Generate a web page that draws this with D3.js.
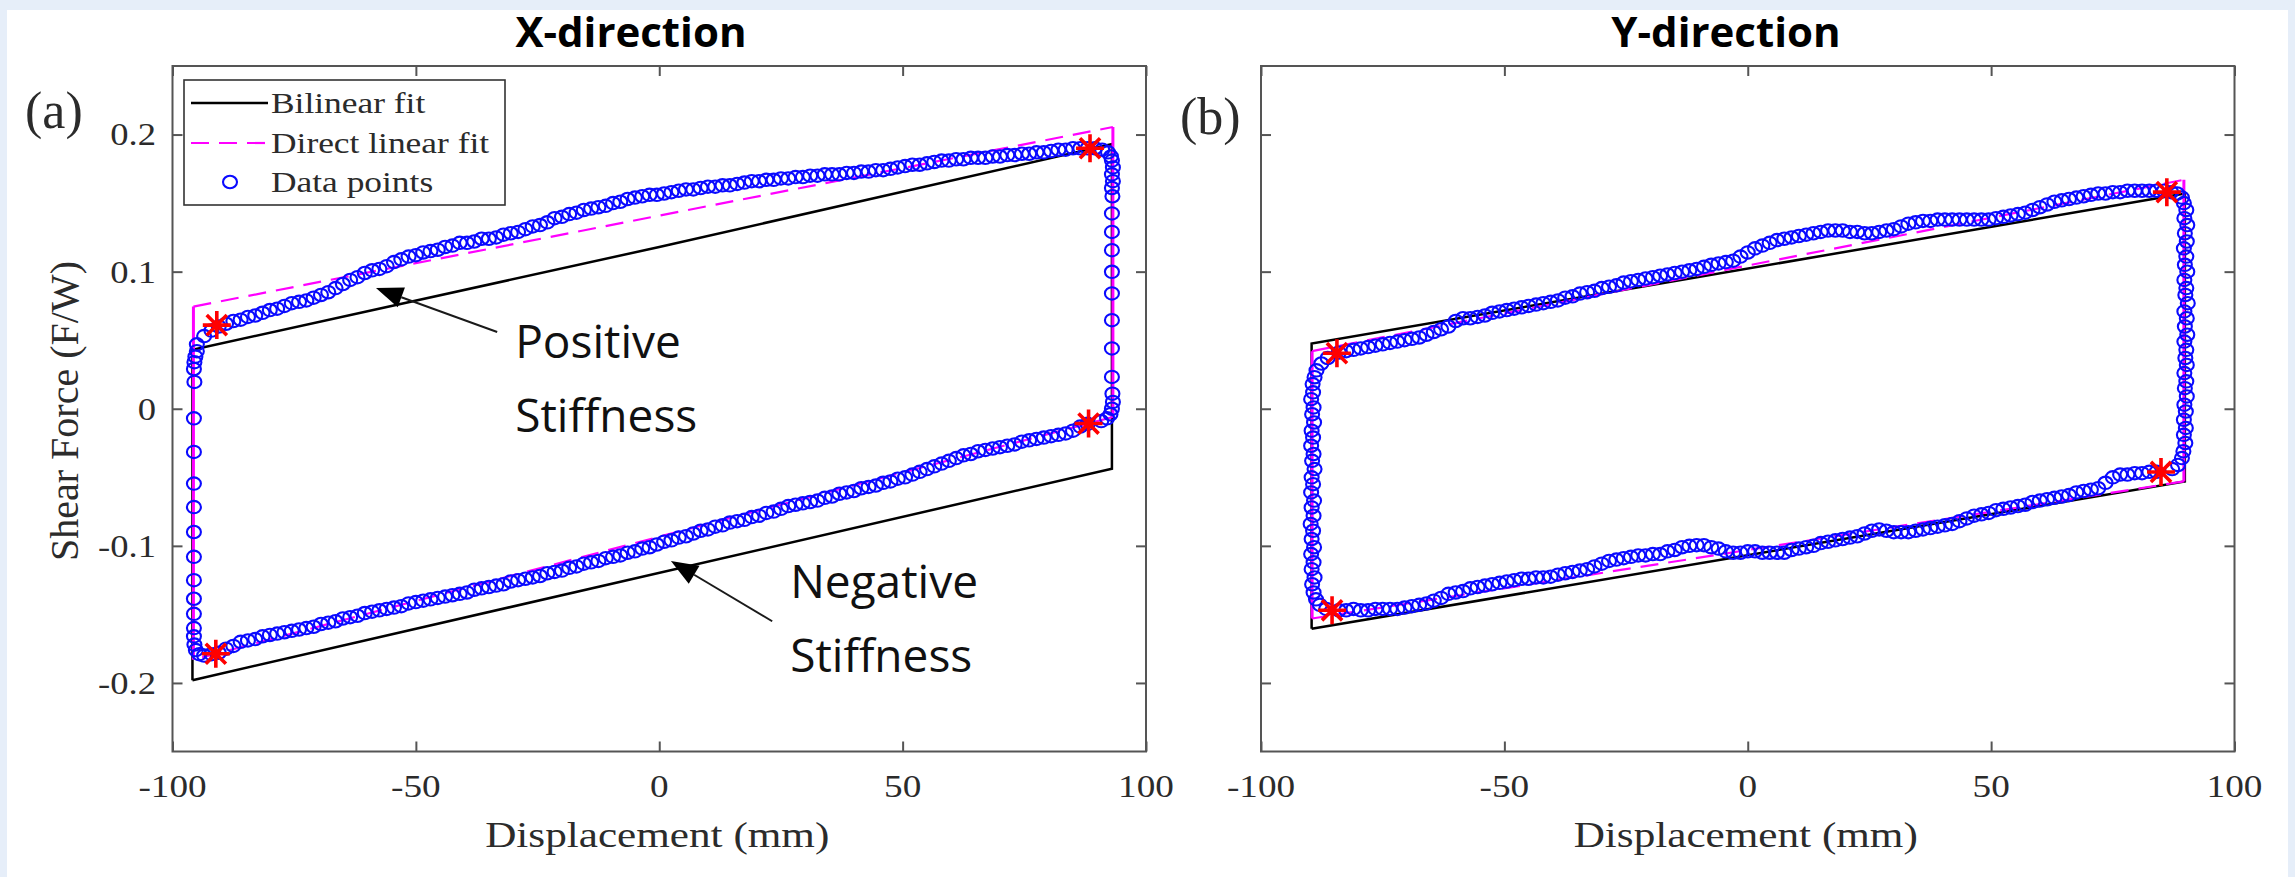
<!DOCTYPE html>
<html>
<head>
<meta charset="utf-8">
<script src="https://cdn.jsdelivr.net/npm/d3@7"></script>
<style>
  html, body { margin: 0; padding: 0; background: #e6eef9; }
  svg { display: block; }
</style>
</head>
<body>
<svg id="chart" width="2295" height="877"></svg>
<script>
// ---- data ----
const xTickValues = [-100, -50, 0, 50, 100];
const xTickLabels = ['-100', '-50', '0', '50', '100'];
const yTickValues = [-0.2, -0.1, 0, 0.1, 0.2];
const yTickLabels = ['-0.2', '-0.1', '0', '0.1', '0.2'];
const panelTitles = ['X-direction', 'Y-direction'];
const panelTags = ['(a)', '(b)'];
const legendLabels = ['Bilinear fit', 'Direct linear fit', 'Data points'];

// panel (a) - X-direction
const bilinearA = [[-95.9, -0.198], [-95.9, 0.043], [0, 0.118], [93, 0.193], [93, -0.0437], [-95.9, -0.198]];
const directFitA = [[-95.7, -0.183], [-95.7, 0.0745], [93.2, 0.2055], [93.2, -0.006], [-95.7, -0.183]];
const starsA = [[-90.9, 0.061], [88.5, 0.190], [88.2, -0.0108], [-91.1, -0.1787]];
const upperA = [
  [-95, 0.047], [-93.5, 0.053], [-92, 0.057], [-90.5, 0.060], [-89, 0.062], [-87.5, 0.064], [-86, 0.065], [-84.5, 0.067],
  [-83, 0.068], [-81.5, 0.070], [-80, 0.072], [-78.5, 0.073], [-77, 0.075], [-75.5, 0.077], [-74, 0.078], [-72.5, 0.079],
  [-71, 0.081], [-69.5, 0.083], [-68, 0.085], [-66.5, 0.088], [-65, 0.091], [-63.5, 0.094], [-62, 0.096], [-60.5, 0.099],
  [-59, 0.101], [-57.5, 0.102], [-56, 0.104], [-54.5, 0.107], [-53, 0.109], [-51.5, 0.111], [-50, 0.112], [-48.5, 0.114],
  [-47, 0.115], [-45.5, 0.116], [-44, 0.118], [-42.5, 0.119], [-41, 0.121], [-39.5, 0.121], [-38, 0.122], [-36.5, 0.124],
  [-35, 0.124], [-33.5, 0.125], [-32, 0.127], [-30.5, 0.128], [-29, 0.129], [-27.5, 0.131], [-26, 0.133], [-24.5, 0.134],
  [-23, 0.136], [-21.5, 0.139], [-20, 0.140], [-18.5, 0.142], [-17, 0.143], [-15.5, 0.145], [-14, 0.146], [-12.5, 0.147],
  [-11, 0.148], [-9.5, 0.150], [-8, 0.151], [-6.5, 0.153], [-5, 0.154], [-3.5, 0.155], [-2, 0.156], [-0.5, 0.156],
  [1, 0.157], [2.5, 0.158], [4, 0.159], [5.5, 0.160], [7, 0.160], [8.5, 0.161], [10, 0.162], [11.5, 0.162],
  [13, 0.163], [14.5, 0.163], [16, 0.164], [17.5, 0.165], [19, 0.166], [20.5, 0.166], [22, 0.167], [23.5, 0.167],
  [25, 0.168], [26.5, 0.168], [28, 0.169], [29.5, 0.169], [31, 0.170], [32.5, 0.170], [34, 0.171], [35.5, 0.171],
  [37, 0.171], [38.5, 0.172], [40, 0.172], [41.5, 0.173], [43, 0.173], [44.5, 0.174], [46, 0.174], [47.5, 0.175],
  [49, 0.176], [50.5, 0.177], [52, 0.178], [53.5, 0.178], [55, 0.179], [56.5, 0.180], [58, 0.181], [59.5, 0.181],
  [61, 0.182], [62.5, 0.182], [64, 0.183], [65.5, 0.183], [67, 0.183], [68.5, 0.184], [70, 0.184], [71.5, 0.185],
  [73, 0.185], [74.5, 0.186], [76, 0.186], [77.5, 0.187], [79, 0.187], [80.5, 0.188], [82, 0.189], [83.5, 0.189],
  [85, 0.190], [86.5, 0.190], [88, 0.190], [89.5, 0.190], [91, 0.189], [92.2, 0.187], [92.8, 0.184]
];
const rightA = [
  [93.0, 0.181], [93.2, 0.176], [93.0, 0.171], [93.2, 0.166], [93.0, 0.161], [93.1, 0.155], [93.0, 0.1425], [93.0, 0.129],
  [93.0, 0.1157], [93.0, 0.0999], [93.0, 0.0841], [93.0, 0.0646], [93.0, 0.0440], [93.0, 0.0232], [93.1, 0.011], [93.2, 0.005],
  [93.0, 0.000], [92.7, -0.004], [92.0, -0.007], [90.8, -0.009]
];
const lowerA = [
  [88, -0.011], [86.5, -0.013], [85, -0.016], [83.5, -0.018], [82, -0.019], [80.5, -0.020], [79, -0.021], [77.5, -0.022],
  [76, -0.023], [74.5, -0.024], [73, -0.026], [71.5, -0.027], [70, -0.028], [68.5, -0.029], [67, -0.030], [65.5, -0.031],
  [64, -0.033], [62.5, -0.034], [61, -0.036], [59.5, -0.038], [58, -0.040], [56.5, -0.042], [55, -0.044], [53.5, -0.046],
  [52, -0.048], [50.5, -0.050], [49, -0.051], [47.5, -0.053], [46, -0.054], [44.5, -0.056], [43, -0.057], [41.5, -0.058],
  [40, -0.060], [38.5, -0.061], [37, -0.062], [35.5, -0.064], [34, -0.065], [32.5, -0.067], [31, -0.068], [29.5, -0.069],
  [28, -0.070], [26.5, -0.071], [25, -0.073], [23.5, -0.075], [22, -0.076], [20.5, -0.078], [19, -0.079], [17.5, -0.081],
  [16, -0.082], [14.5, -0.083], [13, -0.085], [11.5, -0.086], [10, -0.088], [8.5, -0.089], [7, -0.091], [5.5, -0.093],
  [4, -0.094], [2.5, -0.096], [1, -0.097], [-0.5, -0.099], [-2, -0.101], [-3.5, -0.102], [-5, -0.104], [-6.5, -0.105],
  [-8, -0.107], [-9.5, -0.108], [-11, -0.109], [-12.5, -0.111], [-14, -0.112], [-15.5, -0.113], [-17, -0.115], [-18.5, -0.116],
  [-20, -0.118], [-21.5, -0.119], [-23, -0.120], [-24.5, -0.122], [-26, -0.123], [-27.5, -0.124], [-29, -0.125], [-30.5, -0.126],
  [-32, -0.128], [-33.5, -0.129], [-35, -0.130], [-36.5, -0.131], [-38, -0.132], [-39.5, -0.134], [-41, -0.135], [-42.5, -0.136],
  [-44, -0.137], [-45.5, -0.138], [-47, -0.139], [-48.5, -0.140], [-50, -0.141], [-51.5, -0.142], [-53, -0.144], [-54.5, -0.145],
  [-56, -0.146], [-57.5, -0.147], [-59, -0.148], [-60.5, -0.149], [-62, -0.151], [-63.5, -0.152], [-65, -0.153], [-66.5, -0.155],
  [-68, -0.156], [-69.5, -0.157], [-71, -0.159], [-72.5, -0.160], [-74, -0.161], [-75.5, -0.162], [-77, -0.163], [-78.5, -0.164],
  [-80, -0.165], [-81.5, -0.166], [-83, -0.168], [-84.5, -0.169], [-86, -0.170], [-87.5, -0.173], [-89, -0.175], [-90.5, -0.178],
  [-92, -0.179], [-93.5, -0.180], [-94.5, -0.179], [-95.2, -0.176]
];
const leftA = [
  [-95.5, -0.172], [-95.6, -0.166], [-95.6, -0.160], [-95.6, -0.1496], [-95.6, -0.1386], [-95.6, -0.125], [-95.6, -0.108],
  [-95.6, -0.0899], [-95.6, -0.0717], [-95.6, -0.0546], [-95.6, -0.0315], [-95.6, -0.007], [-95.5, 0.0196], [-95.6, 0.029],
  [-95.5, 0.034], [-95.3, 0.038], [-95.0, 0.042]
];
// annotation arrows in (a): [tail, tip]
const arrowsA = [[[-33.3, 0.056], [-58.2, 0.088]], [[23.2, -0.155], [2.4, -0.111]]];
const notesA = [{ at: [-29.6, 0.037], lines: ['Positive', 'Stiffness'] }, { at: [26.9, -0.138], lines: ['Negative', 'Stiffness'] }];

// panel (b) - Y-direction
const bilinearB = [[-89.6, -0.1605], [-89.6, 0.0476], [89.8, 0.157], [89.8, -0.053], [-89.6, -0.1605]];
const directFitB = [[-89.5, -0.153], [-89.5, 0.042], [89.6, 0.167], [89.6, -0.053], [-89.5, -0.153]];
const starsB = [[-84.4, 0.0405], [86.1, 0.158], [84.9, -0.0461], [-85.4, -0.147]];
const upperB = [
  [-84, 0.041], [-82.5, 0.042], [-81, 0.043], [-79.5, 0.044], [-78, 0.045], [-76.5, 0.046], [-75, 0.047], [-73.5, 0.048],
  [-72, 0.049], [-70.5, 0.050], [-69, 0.051], [-67.5, 0.052], [-66, 0.054], [-64.5, 0.056], [-63, 0.058], [-61.5, 0.060],
  [-60, 0.064], [-58.5, 0.066], [-57, 0.066], [-55.5, 0.067], [-54, 0.068], [-52.5, 0.070], [-51, 0.071], [-49.5, 0.072],
  [-48, 0.073], [-46.5, 0.074], [-45, 0.075], [-43.5, 0.076], [-42, 0.077], [-40.5, 0.078], [-39, 0.079], [-37.5, 0.081],
  [-36, 0.082], [-34.5, 0.084], [-33, 0.085], [-31.5, 0.086], [-30, 0.088], [-28.5, 0.089], [-27, 0.090], [-25.5, 0.092],
  [-24, 0.093], [-22.5, 0.094], [-21, 0.095], [-19.5, 0.096], [-18, 0.097], [-16.5, 0.098], [-15, 0.099], [-13.5, 0.100],
  [-12, 0.101], [-10.5, 0.102], [-9, 0.1035], [-7.5, 0.105], [-6, 0.106], [-4.5, 0.107], [-3, 0.108], [-1.5, 0.111],
  [0, 0.114], [1.5, 0.117], [3, 0.119], [4.5, 0.121], [6, 0.123], [7.5, 0.124], [9, 0.125], [10.5, 0.126],
  [12, 0.127], [13.5, 0.128], [15, 0.129], [16.5, 0.130], [18, 0.130], [19.5, 0.130], [21, 0.129], [22.5, 0.129],
  [24, 0.128], [25.5, 0.128], [27, 0.129], [28.5, 0.130], [30, 0.131], [31.5, 0.133], [33, 0.135], [34.5, 0.136],
  [36, 0.137], [37.5, 0.137], [39, 0.138], [40.5, 0.138], [42, 0.138], [43.5, 0.138], [45, 0.138], [46.5, 0.138],
  [48, 0.138], [49.5, 0.138], [51, 0.139], [52.5, 0.140], [54, 0.141], [55.5, 0.142], [57, 0.143], [58.5, 0.145],
  [60, 0.147], [61.5, 0.149], [63, 0.151], [64.5, 0.152], [66, 0.153], [67.5, 0.154], [69, 0.155], [70.5, 0.156],
  [72, 0.157], [73.5, 0.157], [75, 0.158], [76.5, 0.158], [78, 0.159], [79.5, 0.159], [81, 0.159], [82.5, 0.159],
  [84, 0.159], [85.5, 0.159], [87, 0.158], [88.2, 0.157], [89.2, 0.154]
];
const rightB = [
  [89.6, 0.150], [90.1, 0.145], [89.7, 0.139], [90.3, 0.134], [89.8, 0.128], [90.2, 0.122], [89.6, 0.117], [90.1, 0.111],
  [89.8, 0.105], [90.3, 0.100], [89.7, 0.094], [90.1, 0.088], [89.9, 0.083], [90.4, 0.077], [89.7, 0.071], [90.2, 0.066],
  [89.8, 0.060], [90.3, 0.054], [89.7, 0.049], [90.1, 0.043], [89.9, 0.037], [90.2, 0.032], [89.7, 0.026], [90.1, 0.020],
  [89.8, 0.015], [90.2, 0.009], [89.7, 0.003], [90.0, -0.002], [89.6, -0.008], [90.0, -0.014], [89.6, -0.019], [89.9, -0.025],
  [89.5, -0.031], [89.2, -0.036], [88.4, -0.041], [87.2, -0.044]
];
const lowerB = [
  [84, -0.046], [82.5, -0.046], [81, -0.047], [79.5, -0.047], [78, -0.048], [76.5, -0.048], [75, -0.050], [73.5, -0.054],
  [72, -0.058], [70.5, -0.059], [69, -0.060], [67.5, -0.061], [66, -0.063], [64.5, -0.064], [63, -0.065], [61.5, -0.066],
  [60, -0.067], [58.5, -0.068], [57, -0.070], [55.5, -0.071], [54, -0.072], [52.5, -0.073], [51, -0.074], [49.5, -0.076],
  [48, -0.077], [46.5, -0.078], [45, -0.080], [43.5, -0.082], [42, -0.084], [40.5, -0.085], [39, -0.086], [37.5, -0.087],
  [36, -0.088], [34.5, -0.089], [33, -0.090], [31.5, -0.090], [30, -0.090], [28.5, -0.089], [27, -0.088], [25.5, -0.089],
  [24, -0.091], [22.5, -0.093], [21, -0.094], [19.5, -0.095], [18, -0.096], [16.5, -0.097], [15, -0.098], [13.5, -0.100],
  [12, -0.101], [10.5, -0.102], [9, -0.103], [7.5, -0.105], [6, -0.105], [4.5, -0.105], [3, -0.105], [1.5, -0.104],
  [0, -0.104], [-1.5, -0.105], [-3, -0.105], [-4.5, -0.104], [-6, -0.102], [-7.5, -0.101], [-9, -0.0995], [-10.5, -0.0995],
  [-12, -0.100], [-13.5, -0.101], [-15, -0.103], [-16.5, -0.104], [-18, -0.106], [-19.5, -0.106], [-21, -0.107], [-22.5, -0.107],
  [-24, -0.108], [-25.5, -0.109], [-27, -0.110], [-28.5, -0.111], [-30, -0.113], [-31.5, -0.115], [-33, -0.117], [-34.5, -0.118],
  [-36, -0.119], [-37.5, -0.120], [-39, -0.121], [-40.5, -0.1225], [-42, -0.123], [-43.5, -0.123], [-45, -0.124], [-46.5, -0.124],
  [-48, -0.125], [-49.5, -0.126], [-51, -0.127], [-52.5, -0.128], [-54, -0.129], [-55.5, -0.130], [-57, -0.131], [-58.5, -0.133],
  [-60, -0.134], [-61.5, -0.135], [-63, -0.138], [-64.5, -0.140], [-66, -0.142], [-67.5, -0.143], [-69, -0.144], [-70.5, -0.145],
  [-72, -0.146], [-73.5, -0.146], [-75, -0.146], [-76.5, -0.146], [-78, -0.147], [-79.5, -0.147], [-81, -0.146], [-82.5, -0.147],
  [-84, -0.147]
];
const leftB = [
  [-86.6, -0.146], [-87.9, -0.143], [-88.7, -0.139], [-89.2, -0.134], [-89.5, -0.128], [-89.0, -0.123], [-89.6, -0.117],
  [-89.2, -0.112], [-89.7, -0.106], [-89.1, -0.101], [-89.6, -0.095], [-89.3, -0.089], [-89.8, -0.084], [-89.2, -0.078],
  [-89.6, -0.072], [-89.1, -0.067], [-89.7, -0.061], [-89.3, -0.055], [-89.6, -0.050], [-89.0, -0.044], [-89.5, -0.038],
  [-89.2, -0.033], [-89.7, -0.027], [-89.3, -0.021], [-89.6, -0.016], [-89.1, -0.010], [-89.5, -0.004], [-89.2, 0.001],
  [-89.7, 0.007], [-89.3, 0.012], [-89.4, 0.018], [-89.0, 0.023], [-88.6, 0.028], [-87.6, 0.033], [-86.3, 0.037]
];

// ---- layout ----
const SERIF = '"Liberation Serif", "Times New Roman", serif';
const SANS = '"Open Sans", "Noto Sans", sans-serif';
const AXIS = '#555';
const INK = '#2b2b2b';
const SX = 1.18;          // the figure was stretched sideways
const plotTop = 66, plotBottom = 751.5;

const panels = [
  { left: 172.5, right: 1146, bilinear: bilinearA, direct: directFitA, points: [upperA, rightA, lowerA, leftA],
    stars: starsA, yLabels: true, legend: true, arrows: arrowsA, notes: notesA,
    titleX: 631, tagX: 25, tagY: 128 },
  { left: 1261, right: 2234.5, bilinear: bilinearB, direct: directFitB, points: [upperB, rightB, lowerB, leftB],
    stars: starsB, yLabels: false, legend: false, arrows: [], notes: [],
    titleX: 1726, tagX: 1180, tagY: 134 }
];

const svg = d3.select('#chart');
svg.append('rect').attr('x', 7).attr('y', 10).attr('width', 2281).attr('height', 867).attr('fill', '#fff');

function serifText(g, x, y, str, size, anchor, sx = SX) {
  return g.append('text')
    .attr('transform', `translate(${x},${y}) scale(${sx},1)`)
    .attr('text-anchor', anchor)
    .style('font-family', SERIF)
    .style('font-size', size + 'px')
    .attr('fill', INK)
    .text(str);
}

// MATLAB style asterisk: plus and cross overlaid
function starPath(r) {
  const d = r * 0.72;
  return `M${-r},0L${r},0M0,${-r}L0,${r}M${-d},${-d}L${d},${d}M${-d},${d}L${d},${-d}`;
}

function drawArrow(g, tail, tip) {
  const [x0, y0] = tail, [x1, y1] = tip;
  const len = Math.hypot(x1 - x0, y1 - y0);
  const ux = (x1 - x0) / len, uy = (y1 - y0) / len;
  const headLen = 27, halfW = 10.5;
  const bx = x1 - ux * headLen, by = y1 - uy * headLen;
  g.append('line').attr('x1', x0).attr('y1', y0).attr('x2', bx).attr('y2', by)
    .attr('stroke', '#1a1a1a').attr('stroke-width', 2);
  g.append('path')
    .attr('d', `M${x1},${y1}L${bx - uy * halfW},${by + ux * halfW}L${bx + uy * halfW},${by - ux * halfW}Z`)
    .attr('fill', '#000');
}

function marker(sel) {
  return sel.attr('rx', 7).attr('ry', 6.2)
    .attr('fill', 'none').attr('stroke', '#0a0aff').attr('stroke-width', 2.1);
}

panels.forEach((p, i) => {
  const x = d3.scaleLinear().domain([-100, 100]).range([p.left, p.right]);
  const y = d3.scaleLinear().domain([-0.25, 0.25]).range([plotBottom, plotTop]);
  const g = svg.append('g');
  const line = d3.line().x(d => x(d[0])).y(d => y(d[1]));

  // ticks on all four sides, pointing inward
  const sides = [
    [d3.axisBottom(x).tickValues(xTickValues), 0, plotBottom],
    [d3.axisTop(x).tickValues(xTickValues), 0, plotTop],
    [d3.axisLeft(y).tickValues(yTickValues), p.left, 0],
    [d3.axisRight(y).tickValues(yTickValues), p.right, 0]
  ];
  sides.forEach(([gen, tx, ty]) => {
    const a = g.append('g').attr('transform', `translate(${tx},${ty})`)
      .call(gen.tickSize(-10).tickFormat(() => ''));
    a.select('.domain').remove();
    a.selectAll('text').remove();
    a.selectAll('line').attr('stroke', AXIS).attr('stroke-width', 2);
  });

  // series: bilinear fit, direct linear fit, data points, key points
  g.append('path').datum(p.bilinear).attr('d', line)
    .attr('fill', 'none').attr('stroke', '#000').attr('stroke-width', 2.5);

  d3.pairs(p.direct).forEach(([a, b]) => {
    const vertical = a[0] === b[0];
    g.append('path').datum([a, b]).attr('d', line)
      .attr('fill', 'none').attr('stroke', '#ff00ff').attr('stroke-width', vertical ? 3 : 2.2)
      .attr('stroke-dasharray', vertical ? null : '18,10');
  });

  g.append('g').selectAll('ellipse')
    .data(p.points.flat())
    .join('ellipse')
    .attr('cx', d => x(d[0])).attr('cy', d => y(d[1]))
    .call(marker);

  g.append('g').selectAll('path')
    .data(p.stars)
    .join('path')
    .attr('transform', d => `translate(${x(d[0])},${y(d[1])})`)
    .attr('d', starPath(14))
    .attr('stroke', '#ff0000').attr('stroke-width', 3.6).attr('fill', 'none');

  // box
  g.append('rect').attr('x', p.left).attr('y', plotTop)
    .attr('width', p.right - p.left).attr('height', plotBottom - plotTop)
    .attr('fill', 'none').attr('stroke', AXIS).attr('stroke-width', 2);

  // tick labels
  xTickValues.forEach((v, k) => serifText(g, x(v), plotBottom + 45, xTickLabels[k], 31, 'middle', 1.2));
  if (p.yLabels) {
    yTickValues.forEach((v, k) => serifText(g, p.left - 16.5, y(v), yTickLabels[k], 31, 'end').attr('dy', '0.35em'));
    serifText(g, 0, 0, 'Shear Force (F/W)', 40, 'middle')
      .attr('transform', `translate(77.5,411) rotate(-90)`);
  }
  serifText(g, (p.left + p.right) / 2 - 2, 846.5, 'Displacement (mm)', 36, 'middle', 1.2);

  // panel tag and title
  serifText(g, p.tagX, p.tagY, panelTags[i], 52, 'start', 1);
  g.append('text').attr('x', p.titleX).attr('y', 47).attr('text-anchor', 'middle')
    .style('font-family', SANS).style('font-size', '42px').style('font-weight', 700)
    .attr('fill', '#000').text(panelTitles[i]);

  // legend
  if (p.legend) {
    const lg = g.append('g');
    lg.append('rect').attr('x', 184).attr('y', 80).attr('width', 321).attr('height', 125)
      .attr('fill', '#fff').attr('stroke', '#333').attr('stroke-width', 1.6);
    const rows = [103, 143, 182];
    lg.append('line').attr('x1', 191).attr('x2', 268).attr('y1', rows[0]).attr('y2', rows[0])
      .attr('stroke', '#000').attr('stroke-width', 2.5);
    lg.append('line').attr('x1', 191).attr('x2', 268).attr('y1', rows[1]).attr('y2', rows[1])
      .attr('stroke', '#ff00ff').attr('stroke-width', 2.2).attr('stroke-dasharray', '18,10');
    lg.append('ellipse').attr('cx', 230).attr('cy', rows[2]).call(marker);
    legendLabels.forEach((t, k) => serifText(lg, 271, rows[k], t, 30, 'start').attr('dy', '0.33em'));
  }

  // annotations
  p.arrows.forEach(([tail, tip]) => drawArrow(g, [x(tail[0]), y(tail[1])], [x(tip[0]), y(tip[1])]));
  p.notes.forEach(n => {
    n.lines.forEach((t, k) => {
      g.append('text').attr('x', x(n.at[0])).attr('y', y(n.at[1]) + k * 74)
        .style('font-family', SANS).style('font-size', '46px')
        .attr('fill', '#111').text(t);
    });
  });
});
</script>
</body>
</html>
